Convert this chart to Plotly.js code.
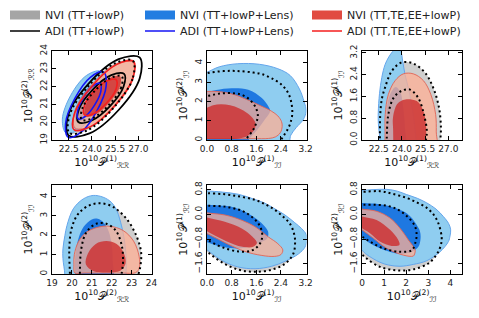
<!DOCTYPE html>
<html><head><meta charset="utf-8">
<script src="https://cdn.plot.ly/plotly-3.0.1.min.js"></script>
<style>html,body{margin:0;padding:0;background:#fff}#chart{width:479px;height:318px}</style>
</head><body><div id="chart"></div>
<script>
// ---------- tick values / labels ----------
const ticksRR = [22.5, 24.0, 25.5, 27.0];
const ticksRRText = ["22.5", "24.0", "25.5", "27.0"];
const ticksRR2 = [19, 20, 21, 22, 23, 24];
const ticksRR2Text = ["19", "20", "21", "22", "23", "24"];
const ticksII08 = [0, 0.8, 1.6, 2.4, 3.2];
const ticksII08Text = ["0.0", "0.8", "1.6", "2.4", "3.2"];
const ticksII1 = [0, 1, 2, 3, 4];
const ticksII1Text = ["0", "1", "2", "3", "4"];
const ticksRI = [-1.6, -0.8, 0, 0.8];
const ticksRIText = ["\u22121.6", "\u22120.8", "0.0", "0.8"];

// ---------- legend names ----------
const legendNames = ["NVI (TT+lowP)", "ADI (TT+lowP)", "NVI (TT+lowP+Lens)", "ADI (TT+lowP+Lens)", "NVI (TT,TE,EE+lowP)", "ADI (TT,TE,EE+lowP)"];

// ---------- panel 1 : P(1)_RR vs P(2)_RR ----------
const p1_gray95_x = [26.64,26.62,25.40,23.72,22.54,22.57,23.78,25.47];
const p1_gray95_y = [23.46,22.42,20.81,19.55,19.40,20.43,22.04,23.30];
const p1_gray68_x = [25.93,25.89,25.11,24.06,23.34,23.38,24.16,25.21];
const p1_gray68_y = [22.58,21.95,20.98,20.23,20.14,20.77,21.74,22.49];
const p1_lb_x = [24.53,24.77,24.22,23.21,22.33,22.09,22.63,23.64];
const p1_lb_y = [22.86,22.08,20.75,19.63,19.39,20.17,21.51,22.62];
const p1_db_x = [24.42,24.53,24.17,23.54,23.02,22.90,23.27,23.89];
const p1_db_y = [22.20,21.73,20.90,20.21,20.05,20.52,21.35,22.04];
const p1_rl_x = [26.64,26.65,25.55,24.01,22.91,22.90,24.00,25.55];
const p1_rl_y = [23.38,22.42,20.94,19.80,19.67,20.63,22.12,23.26];
const p1_rd_x = [25.82,25.81,25.14,24.21,23.56,23.57,24.23,25.17];
const p1_rd_y = [22.57,22.00,21.11,20.42,20.33,20.90,21.80,22.49];
const p1_adiTT95_x = [27.08,27.09,25.74,23.84,22.49,22.48,23.83,25.73];
const p1_adiTT95_y = [23.64,22.47,20.70,19.37,19.26,20.44,22.21,23.54];
const p1_adiTT68_x = [26.08,26.04,25.17,23.96,23.12,23.16,24.04,25.25];
const p1_adiTT68_y = [22.71,21.99,20.90,20.08,20.01,20.73,21.82,22.64];
const p1_adiLens95_x = [24.74,24.92,24.33,23.32,22.48,22.30,22.89,23.90];
const p1_adiLens95_y = [22.82,22.04,20.65,19.45,19.15,19.93,21.32,22.52];
const p1_adiLens68_x = [24.53,24.58,24.19,23.59,23.12,23.07,23.46,24.06];
const p1_adiLens68_y = [22.18,21.75,20.99,20.34,20.18,20.61,21.38,22.03];
const p1_adiPol95_x = [26.69,26.64,25.50,23.92,22.84,22.89,24.03,25.61];
const p1_adiPol95_y = [23.42,22.47,20.95,19.75,19.58,20.53,22.05,23.25];
const p1_adiPol68_x = [25.56,25.56,24.95,24.11,23.51,23.52,24.12,24.97];
const p1_adiPol68_y = [22.39,21.87,21.08,20.48,20.42,20.94,21.73,22.33];

// ---------- panel 2 : P(1)_II vs P(2)_II ----------
const p2_gray95_x = [-0.6,-0.3,0,0.4,0.8,1.1,1.5,1.78,2.1,2.42,2.63,2.73,2.77,2.72,2.64,2.52,2.40,2.25,-0.6];
const p2_gray95_y = [3.2,3.36,3.47,3.56,3.59,3.57,3.5,3.42,3.2,2.87,2.45,2.0,1.4,0.95,0.62,0.3,0,-0.4,-0.6];
const p2_gray68_x = [-0.6,-0.3,0,0.3,0.58,0.9,1.13,1.38,1.56,1.65,1.6,1.5,1.3,1.1,-0.6];
const p2_gray68_y = [2.1,2.2,2.28,2.38,2.43,2.42,2.35,2.1,1.75,1.3,0.9,0.53,0.1,-0.4,-0.6];
const p2_lb_x = [-0.6,-0.3,0,0.4,1.0,1.7,2.3,2.7,3.0,3.15,3.22,3.12,2.9,2.72,2.6,-0.6];
const p2_lb_y = [3.2,3.38,3.52,3.8,3.96,3.93,3.7,3.35,2.65,2.0,1.5,1.05,0.65,0.25,-0.4,-0.6];
const p2_db_x = [-0.6,-0.3,0,0.3,0.8,1.34,1.78,1.99,2.05,1.85,1.62,1.35,1.2,-0.6];
const p2_db_y = [2.3,2.42,2.5,2.6,2.69,2.61,2.18,1.75,1.5,1.0,0.5,0,-0.4,-0.6];
const p2_rl_x = [-0.6,-0.3,0,0.3,0.58,0.9,1.13,1.4,1.67,1.9,2.1,2.3,2.42,2.44,2.38,2.22,2.0,1.5,0.8,-0.6];
const p2_rl_y = [2.45,2.5,2.52,2.52,2.47,2.35,2.21,2.03,1.83,1.66,1.49,1.25,0.95,0.7,0.38,0.16,0.08,0.07,0.07,0.07];
const p2_rd_x = [-0.6,-0.3,0,0.2,0.45,0.75,1.05,1.3,1.5,1.58,1.5,1.3,1.0,0.6,-0.6];
const p2_rd_y = [1.45,1.58,1.68,1.8,1.86,1.8,1.64,1.4,1.1,0.8,0.45,0.2,0.07,0.05,0.05];

// ---------- panel 3 : P(1)_RR vs P(1)_II ----------
const p3_gray95_x = [22.62,22.6,22.58,22.6,22.7,22.9,23.34,23.99,24.74,25.5,26.03,26.4,26.52,26.48,26.42,22.62];
const p3_gray95_y = [-0.6,-0.3,0.07,0.93,1.5,1.91,2.53,2.85,2.81,2.47,1.91,1.18,0.44,0.0,-0.3,-0.6];
const p3_gray68_x = [23.0,23.02,23.12,23.45,23.99,24.53,25.06,25.43,25.61,25.56,25.5,23.0];
const p3_gray68_y = [-0.5,0.07,0.93,1.54,1.81,1.85,1.54,0.93,0.32,0.01,-0.5,-0.6];
const p3_lb_x = [22.62,22.58,22.48,22.47,22.55,22.7,22.91,23.15,23.4,23.65,23.9,24.05,24.2,24.42,24.6,24.74,24.85,24.92,24.95,22.62];
const p3_lb_y = [-0.4,0,0.6,1.0,1.7,2.3,2.77,3.05,3.25,3.4,3.3,2.9,2.4,1.91,1.4,0.93,0.4,0,-0.4,-0.5];
const p3_db_x = [23.0,22.98,23.05,23.3,23.6,23.9,24.1,24.2,24.22,23.0];
const p3_db_y = [-0.4,0.6,1.3,1.75,1.95,1.75,1.1,0.4,-0.4,-0.5];
const p3_rl_x = [22.93,22.91,22.91,22.92,23.12,23.56,24.09,24.74,25.39,25.87,26.18,26.22,26.18,22.93];
const p3_rl_y = [-0.4,0,0.3,0.93,1.67,2.18,2.43,2.43,2.18,1.67,0.93,0.3,-0.4,-0.5];
const p3_rd_x = [23.45,23.43,23.42,23.67,24.0,24.31,24.96,25.39,25.56,25.55,25.55,23.45];
const p3_rd_y = [-0.4,0.4,0.81,1.3,1.45,1.5,1.43,1.06,0.5,0,-0.4,-0.5];

// ---------- panel 4 : P(2)_RR vs P(2)_II ----------
const p4_gray95_x = [19.9,19.9,19.87,19.98,20.32,20.9,21.48,22.07,22.73,23.23,23.48,23.42,23.35,23.3,19.9];
const p4_gray95_y = [-0.5,0,1.3,2.34,3.11,3.56,3.65,3.47,2.87,2.0,1.1,0.27,0,-0.5,-0.6];
const p4_gray68_x = [20.4,20.4,20.47,20.73,21.23,21.73,22.2,22.5,22.57,22.5,22.48,20.4];
const p4_gray68_y = [-0.5,0,1.3,2.16,2.6,2.6,2.25,1.5,0.62,0,-0.5,-0.6];
const p4_lb_x = [19.62,19.64,19.55,19.55,19.65,19.75,20.07,20.57,21.07,21.57,21.98,22.25,22.4,22.58,22.68,22.73,22.72,22.7,19.62];
const p4_lb_y = [-0.5,0,0.8,1.3,2.0,2.5,3.37,3.88,4.06,3.97,3.71,3.3,2.85,2.1,1.4,0.79,0,-0.5,-0.6];
const p4_db_x = [20.2,20.15,20.2,20.35,20.6,21.0,21.3,21.6,21.85,22.0,22.05,22.0,20.2];
const p4_db_y = [-0.5,0.5,1.2,1.9,2.45,2.82,2.85,2.65,2.2,1.5,0.7,-0.5,-0.6];
const p4_rl_x = [20.15,20.1,20.12,20.32,20.73,21.32,21.9,22.57,23.1,23.38,23.38,23.2,22.5,21.5,20.6];
const p4_rl_y = [0.05,0.5,1.0,1.65,2.16,2.42,2.47,2.25,1.7,0.9,0.3,0.07,0.05,0.05,0.05];
const p4_rd_x = [20.7,20.8,21.2,21.73,22.25,22.6,22.7,22.45,21.73,21.07];
const p4_rd_y = [0.5,1.05,1.55,1.7,1.55,1.1,0.55,0.18,0.08,0.15];

// ---------- panel 5 : P(1)_II vs P(1)_RI ----------
const p5_gray95_x = [-0.6,-0.3,0,0.58,1.1,1.56,1.9,2.21,2.5,2.69,2.82,2.86,2.8,2.53,2.1,1.56,1.02,0.48,0.04,-0.3,-0.6];
const p5_gray95_y = [0.8,0.74,0.69,0.65,0.57,0.47,0.32,0.14,-0.1,-0.3,-0.6,-0.88,-1.28,-1.6,-1.79,-1.86,-1.79,-1.55,-1.24,-1.0,-0.8];
const p5_gray68_x = [-0.6,-0.3,0,0.58,1.0,1.23,1.5,1.67,1.78,1.78,1.68,1.45,1.02,0.48,0.04,-0.3,-0.6];
const p5_gray68_y = [0.33,0.3,0.28,0.25,0.16,0.07,-0.12,-0.3,-0.55,-0.8,-1.0,-1.17,-1.2,-1.06,-0.84,-0.65,-0.45];
const p5_lb_x = [-0.6,-0.3,0,0.5,1.02,1.5,1.88,2.25,2.53,2.85,3.07,3.22,3.24,3.18,2.97,2.53,2.1,1.56,1.0,0.5,0,-0.3,-0.6];
const p5_lb_y = [0.82,0.79,0.76,0.72,0.65,0.5,0.36,0.15,-0.02,-0.27,-0.46,-0.65,-0.82,-1.06,-1.28,-1.52,-1.68,-1.76,-1.7,-1.5,-1.15,-0.95,-0.75];
const p5_db_x = [-0.6,-0.3,0,0.4,0.8,1.34,1.72,1.98,1.95,1.6,1.1,0.5,0,-0.3,-0.6];
const p5_db_y = [0.36,0.33,0.31,0.29,0.25,0.03,-0.24,-0.55,-0.78,-0.95,-1.1,-1.05,-0.9,-0.75,-0.6];
const p5_rl_x = [-0.6,-0.3,0,0.58,1.13,1.56,1.99,2.3,2.46,2.4,2.2,1.78,1.23,0.69,0.26,0,-0.3,-0.6];
const p5_rl_y = [0.2,0.12,0.05,-0.02,-0.19,-0.4,-0.73,-0.95,-1.15,-1.3,-1.36,-1.33,-1.2,-0.97,-0.75,-0.62,-0.45,-0.3];
const p5_rd_x = [-0.6,-0.3,0,0.58,1.13,1.45,1.62,1.5,1.02,0.48,0.04,-0.3,-0.6];
const p5_rd_y = [0.08,0.0,-0.1,-0.24,-0.46,-0.7,-0.92,-1.05,-1.02,-0.8,-0.57,-0.4,-0.25];

// ---------- panel 6 : P(2)_II vs P(2)_RI ----------
const p6_gray95_x = [-0.6,-0.3,0,0.81,1.4,2.02,2.5,2.93,3.25,3.45,3.6,3.58,3.45,3.25,3.0,2.32,1.57,0.81,0.21,0,-0.3,-0.6];
const p6_gray95_y = [0.76,0.74,0.73,0.75,0.66,0.53,0.38,0.21,-0.02,-0.28,-0.72,-0.95,-1.21,-1.42,-1.59,-1.78,-1.81,-1.70,-1.43,-1.3,-1.15,-1.0];
const p6_gray68_x = [-0.6,-0.3,0,0.5,1.12,1.55,1.87,2.2,2.4,2.47,2.42,2.25,1.72,0.96,0.36,0,-0.3,-0.6];
const p6_gray68_y = [0.34,0.33,0.31,0.31,0.28,0.18,0.04,-0.18,-0.39,-0.65,-0.9,-1.16,-1.21,-1.10,-0.88,-0.72,-0.58,-0.45];
const p6_lb_x = [-0.6,-0.3,0,0.5,1.12,1.6,2.02,2.5,2.93,3.35,3.68,3.92,4.01,3.98,3.91,3.53,2.93,2.32,1.72,1.2,0.81,0.21,0,-0.3,-0.6];
const p6_lb_y = [0.8,0.79,0.78,0.8,0.81,0.75,0.64,0.52,0.37,0.17,-0.07,-0.3,-0.5,-0.7,-0.88,-1.21,-1.5,-1.62,-1.68,-1.64,-1.55,-1.3,-1.16,-1.0,-0.85];
const p6_db_x = [-0.6,-0.3,0,0.5,1.12,1.87,2.2,2.47,2.62,2.65,2.55,2.25,1.72,1.0,0.4,0,-0.3,-0.6];
const p6_db_y = [0.4,0.38,0.37,0.35,0.29,0.1,-0.08,-0.34,-0.55,-0.77,-1.05,-1.21,-1.28,-1.15,-0.95,-0.75,-0.6,-0.45];
const p6_rl_x = [-0.6,-0.3,0,0.66,1.27,1.72,2.1,2.4,2.38,2.32,1.87,1.12,0.51,0,-0.3,-0.6];
const p6_rl_y = [0.28,0.22,0.17,0.1,-0.12,-0.45,-0.83,-1.15,-1.28,-1.35,-1.32,-1.1,-0.77,-0.5,-0.35,-0.2];
const p6_rd_x = [-0.6,-0.3,0,0.66,1.27,1.64,1.69,1.34,0.81,0.36,0,-0.3,-0.6];
const p6_rd_y = [0.1,0.02,-0.07,-0.18,-0.5,-0.83,-0.99,-1.02,-0.88,-0.61,-0.45,-0.3,-0.15];

// ---------- styling ----------
const C = {
  gray95: 'rgb(206,206,206)', gray68: 'rgb(172,172,172)',
  lb: 'rgb(143,205,240)', lbEdge: 'rgb(100,165,235)',
  db: 'rgb(30,120,225)',
  rl: 'rgba(255,175,148,0.75)', rlEdge: 'rgba(225,100,85,0.9)',
  rd: 'rgba(205,45,45,0.8)',
  black: '#000', blue: 'rgb(20,20,245)', red: 'rgb(245,30,30)'
};
const FONT = 'DejaVu Sans';

function closeRing(a) { return a.concat([a[0]]); }
function axIds(n) { return { xaxis: 'x' + (n > 1 ? n : ''), yaxis: 'y' + (n > 1 ? n : '') }; }

function area(n, xs, ys, fill, edge, ew, closed) {
  return Object.assign({
    type: 'scatter', mode: 'lines',
    x: closed ? closeRing(xs) : xs, y: closed ? closeRing(ys) : ys,
    fill: 'toself', fillcolor: fill,
    line: { color: edge || fill, width: ew || 0, shape: 'spline', smoothing: 1, simplify: false },
    showlegend: false, hoverinfo: 'skip'
  }, axIds(n));
}
function curve(n, xs, ys, color, w, dash, closed) {
  return Object.assign({
    type: 'scatter', mode: 'lines',
    x: closed ? closeRing(xs) : xs, y: closed ? closeRing(ys) : ys,
    line: { color: color, width: w, dash: dash || 'solid', shape: 'spline', smoothing: 1, simplify: false },
    showlegend: false, hoverinfo: 'skip'
  }, axIds(n));
}

const panels = [
  { n: 1, closed: true, g95: [p1_gray95_x, p1_gray95_y], g68: [p1_gray68_x, p1_gray68_y], lb: [p1_lb_x, p1_lb_y], db: [p1_db_x, p1_db_y], rl: [p1_rl_x, p1_rl_y], rd: [p1_rd_x, p1_rd_y] },
  { n: 2, closed: false, g95: [p2_gray95_x, p2_gray95_y], g68: [p2_gray68_x, p2_gray68_y], lb: [p2_lb_x, p2_lb_y], db: [p2_db_x, p2_db_y], rl: [p2_rl_x, p2_rl_y], rd: [p2_rd_x, p2_rd_y] },
  { n: 3, closed: false, g95: [p3_gray95_x, p3_gray95_y], g68: [p3_gray68_x, p3_gray68_y], lb: [p3_lb_x, p3_lb_y], db: [p3_db_x, p3_db_y], rl: [p3_rl_x, p3_rl_y], rd: [p3_rd_x, p3_rd_y] },
  { n: 4, closed: false, closedRed: true, g95: [p4_gray95_x, p4_gray95_y], g68: [p4_gray68_x, p4_gray68_y], lb: [p4_lb_x, p4_lb_y], db: [p4_db_x, p4_db_y], rl: [p4_rl_x, p4_rl_y], rd: [p4_rd_x, p4_rd_y] },
  { n: 5, closed: false, g95: [p5_gray95_x, p5_gray95_y], g68: [p5_gray68_x, p5_gray68_y], lb: [p5_lb_x, p5_lb_y], db: [p5_db_x, p5_db_y], rl: [p5_rl_x, p5_rl_y], rd: [p5_rd_x, p5_rd_y] },
  { n: 6, closed: false, g95: [p6_gray95_x, p6_gray95_y], g68: [p6_gray68_x, p6_gray68_y], lb: [p6_lb_x, p6_lb_y], db: [p6_db_x, p6_db_y], rl: [p6_rl_x, p6_rl_y], rd: [p6_rd_x, p6_rd_y] }
];

const traces = [];
const dotted = [];
panels.forEach(p => {
  const cl = p.closed, cr = p.closed || p.closedRed;
  traces.push(area(p.n, p.g95[0], p.g95[1], C.gray95, null, 0, cl));
  traces.push(area(p.n, p.g68[0], p.g68[1], C.gray68, null, 0, cl));
  traces.push(area(p.n, p.lb[0], p.lb[1], C.lb, C.lbEdge, 1, cl));
  traces.push(area(p.n, p.db[0], p.db[1], C.db, null, 0, cl));
  traces.push(area(p.n, p.rl[0], p.rl[1], C.rl, C.rlEdge, 1, cr));
  traces.push(area(p.n, p.rd[0], p.rd[1], C.rd, null, 0, cr));
  dotted.push(curve(p.n, p.g95[0], p.g95[1], '#000', 2, '2px,3px', cl));
  dotted.push(curve(p.n, p.g68[0], p.g68[1], '#000', 2, '2px,3px', cl));
});
// ADI line contours (panel 1)
traces.push(curve(1, p1_adiTT95_x, p1_adiTT95_y, C.black, 1.8, 'solid', true));
traces.push(curve(1, p1_adiTT68_x, p1_adiTT68_y, C.black, 1.8, 'solid', true));
traces.push(curve(1, p1_adiLens95_x, p1_adiLens95_y, C.blue, 1.6, 'solid', true));
traces.push(curve(1, p1_adiLens68_x, p1_adiLens68_y, C.blue, 1.6, 'solid', true));
traces.push(curve(1, p1_adiPol95_x, p1_adiPol95_y, C.red, 1.6, 'solid', true));
traces.push(curve(1, p1_adiPol68_x, p1_adiPol68_y, C.red, 1.6, 'solid', true));
dotted.forEach(t => traces.push(t));

// legend-only entries
const legendColors = ['rgb(165,165,165)', '#000', 'rgb(35,125,225)', 'rgb(20,20,245)', 'rgb(225,75,65)', 'rgb(245,30,30)'];
const legendWidths = [9, 1.6, 9, 1.6, 9, 1.6];
legendNames.forEach((nm, i) => {
  traces.push({
    type: 'scatter', mode: 'lines', x: [null], y: [null], name: nm,
    line: { color: legendColors[i], width: legendWidths[i] },
    legend: i === 0 ? 'legend' : 'legend' + (i + 1), showlegend: true, hoverinfo: 'skip'
  });
});

// ---------- layout ----------
const W = 479, H = 318;
const colDom = [[52 / W, 151.5 / W], [207 / W, 306.5 / W], [362 / W, 461.5 / W]];
const rowDom = [[1 - 140 / H, 1 - 51 / H], [1 - 274 / H, 1 - 185 / H]];

function P(sup, sub) { return '10<sup>10</sup>\uD835\uDCAB<sup>(' + sup + ')</sup><sub>' + sub + '</sub>'; }
const RR = '\u211B\u211B', II = '\u2110\u2110', RI = '\u211B\u2110';

function axis(dom, rng, vals, txt, anchor, title, isY) {
  return {
    domain: dom, range: rng, tickmode: 'array', tickvals: vals, ticktext: txt, anchor: anchor,
    showline: true, mirror: 'allticks', linecolor: '#000', linewidth: 1.3,
    ticks: 'inside', ticklen: 4, tickwidth: 1, tickcolor: '#000',
    showgrid: false, zeroline: false, fixedrange: true,
    tickangle: isY ? -90 : 0,
    tickfont: { family: FONT, size: 9, color: '#222' },
    title: { text: title, font: { family: FONT, size: 11, color: '#111' }, standoff: isY ? 4 : 2 }
  };
}

const layout = {
  width: W, height: H, margin: { l: 0, r: 0, t: 0, b: 0 },
  paper_bgcolor: '#fff', plot_bgcolor: '#fff', font: { family: FONT },
  xaxis: axis(colDom[0], [21.42, 27.85], ticksRR, ticksRRText, 'y', P(1, RR), false),
  yaxis: axis(rowDom[0], [19, 24], ticksRR2, ticksRR2Text, 'x', P(2, RR), true),
  xaxis2: axis(colDom[1], [0, 3.23], ticksII08, ticksII08Text, 'y2', P(1, II), false),
  yaxis2: axis(rowDom[0], [0, 4.62], ticksII1, ticksII1Text, 'x2', P(2, II), true),
  xaxis3: axis(colDom[2], [21.42, 27.85], ticksRR, ticksRRText, 'y3', P(1, RR), false),
  yaxis3: axis(rowDom[0], [0, 3.27], ticksII08, ticksII08Text, 'x3', P(1, II), true),
  xaxis4: axis(colDom[0], [19, 24], ticksRR2, ticksRR2Text, 'y4', P(2, RR), false),
  yaxis4: axis(rowDom[1], [0, 4.6], ticksII1, ticksII1Text, 'x4', P(2, II), true),
  xaxis5: axis(colDom[1], [0, 3.23], ticksII08, ticksII08Text, 'y5', P(1, II), false),
  yaxis5: axis(rowDom[1], [-1.93, 0.95], ticksRI, ticksRIText, 'x5', P(1, RI), true),
  xaxis6: axis(colDom[2], [0, 4.5], ticksII1, ticksII1Text, 'y6', P(2, II), false),
  yaxis6: axis(rowDom[1], [-1.93, 0.95], ticksRI, ticksRIText, 'x6', P(2, RI), true)
};
const legendPx = [[5, 15], [5, 31], [140, 15], [140, 31], [307, 15], [307, 31]];
legendPx.forEach((p, i) => {
  layout[i === 0 ? 'legend' : 'legend' + (i + 1)] = {
    x: p[0] / W, y: 1 - p[1] / H, xanchor: 'left', yanchor: 'middle',
    bgcolor: 'rgba(0,0,0,0)', borderwidth: 0, itemwidth: 30, tracegroupgap: 0,
    font: { family: FONT, size: 11, color: '#222' }
  };
});

Plotly.newPlot('chart', traces, layout, { staticPlot: true, displayModeBar: false });
</script></body></html>
